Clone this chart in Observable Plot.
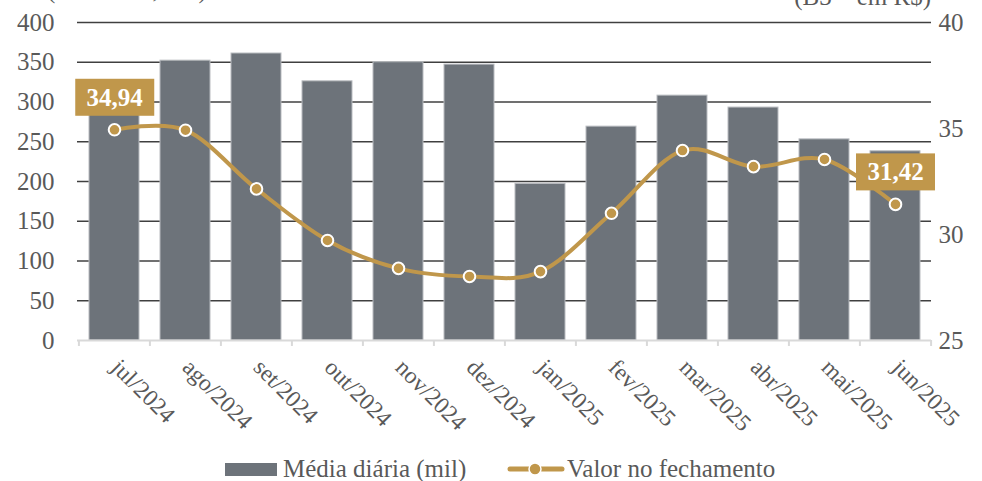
<!DOCTYPE html>
<html><head><meta charset="utf-8">
<script src="https://cdn.jsdelivr.net/npm/d3@7"></script>
<script src="https://cdn.jsdelivr.net/npm/@observablehq/plot@0.6"></script>
<style>
body{margin:0;background:#fff;font-family:"Liberation Serif",serif;color:#595959;}
#wrap{position:relative;width:982px;height:481px;overflow:hidden;background:#fff;}
.cap{position:absolute;font-size:25px;line-height:25px;white-space:nowrap;color:#595959;}
.sw{position:absolute;}
</style></head><body>
<div id="wrap">
  <div id="chart"></div>
  <div class="cap" style="left:47px;top:-23px;">(Contratos, mil)</div>
  <div class="cap" style="right:51px;top:-16px;">(B3 – em R$)</div>
  <div class="sw" style="left:225px;top:463px;width:52px;height:13px;background:#6d737a;"></div>
  <div class="cap" style="left:283px;top:456px;">Média diária (mil)</div>
  <svg class="sw" style="left:505px;top:460px;" width="62" height="18">
    <line x1="5" y1="9" x2="57" y2="9" stroke="#c0974b" stroke-width="5" stroke-linecap="round"/>
    <circle cx="30" cy="9" r="6" fill="#c0974b" stroke="#fff" stroke-width="1.5"/>
  </svg>
  <div class="cap" style="left:567px;top:456px;">Valor no fechamento</div>
</div>
<script>
const months = ["jul/2024","ago/2024","set/2024","out/2024","nov/2024","dez/2024","jan/2025","fev/2025","mar/2025","abr/2025","mai/2025","jun/2025"];
const mediaDiaria = [300, 352, 361, 326, 350, 347, 197, 269, 308, 293, 253, 238];
const valorFechamento = [34.94, 34.92, 32.15, 29.72, 28.40, 28.02, 28.25, 31.00, 33.96, 33.20, 33.54, 31.42];
const leftTicks = [0, 50, 100, 150, 200, 250, 300, 350, 400];
const rightTicks = [25, 30, 35, 40];
const labeledMonths = ["jul/2024", "jun/2025"];

const data = months.map((m, i) => ({m, media: mediaDiaria[i], valor: valorFechamento[i]}));
const toLeft = v => (v - 25) * 400 / 15;
const fromLeft = v => Math.round(v * 15 / 400 + 25);
const fmt = v => v.toFixed(2).replace(".", ",");

const W = 982, H = 445, mL = 77, mR = 51, mT = 22, mB = 105;
const step = (W - mL - mR) / months.length;
const gold = "#c0974b", grey = "#6d737a", txt = "#595959";

const plot = Plot.plot({
  width: W, height: H, marginLeft: mL, marginRight: mR, marginTop: mT, marginBottom: mB,
  style: {fontFamily: "Liberation Serif", fontSize: "25px", color: txt, background: "white", overflow: "visible"},
  x: {domain: months, paddingInner: 0.3, paddingOuter: 0.15, label: null},
  y: {domain: [0, 400], label: null},
  marks: [
    Plot.gridY(leftTicks.filter(d => d > 0), {stroke: "#404040", strokeOpacity: 1, strokeWidth: 1.6}),
    Plot.barY(data, {x: "m", y: "media", fill: grey, stroke: "#b9bcc0", strokeWidth: 1}),
    Plot.ruleY([0], {stroke: "#d9d9d9", strokeWidth: 2}),
    Plot.ruleX(months, {x: d => d, y1: 0, y2: -7.5, dx: -step / 2, stroke: "#d9d9d9", strokeWidth: 2}),
    Plot.ruleX(months.slice(-1), {x: d => d, y1: 0, y2: -7.5, dx: step / 2, stroke: "#d9d9d9", strokeWidth: 2}),
    Plot.axisY(leftTicks, {anchor: "left", label: null, tickSize: 0, tickPadding: 23, fill: txt, fontSize: 25}),
    Plot.axisY(rightTicks.map(toLeft), {anchor: "right", label: null, tickSize: 0, tickPadding: 7, fill: txt, fontSize: 25, tickFormat: fromLeft}),
    Plot.axisX({label: null, tickRotate: 45, tickSize: 0, tickPadding: 23, dx: 1, fill: txt, fontSize: 23.5}),
    Plot.line(data, {x: "m", y: d => toLeft(d.valor), stroke: gold, strokeWidth: 4, curve: "cardinal"}),
    Plot.dot(data, {x: "m", y: d => toLeft(d.valor), r: 5.8, fill: gold, stroke: "white", strokeWidth: 2}),
    Plot.text(data.filter(d => labeledMonths.includes(d.m)), {x: "m", y: d => toLeft(d.valor), text: d => fmt(d.valor), dy: -32, fill: "white", fontWeight: "bold", fontSize: 25})
  ]
});
document.getElementById("chart").appendChild(plot);

// gold boxes behind the value labels
d3.select(plot).selectAll('g[aria-label="text"] text').each(function() {
  const b = this.getBBox();
  const cx = b.x + b.width / 2, cy = b.y + b.height / 2;
  const r = document.createElementNS("http://www.w3.org/2000/svg", "rect");
  r.setAttribute("x", cx - 39.5); r.setAttribute("y", cy - 18.5);
  r.setAttribute("width", 79); r.setAttribute("height", 37);
  r.setAttribute("fill", gold);
  const t = this.getAttribute("transform");
  if (t) r.setAttribute("transform", t);
  this.parentNode.insertBefore(r, this);
});
</script>
</body></html>
